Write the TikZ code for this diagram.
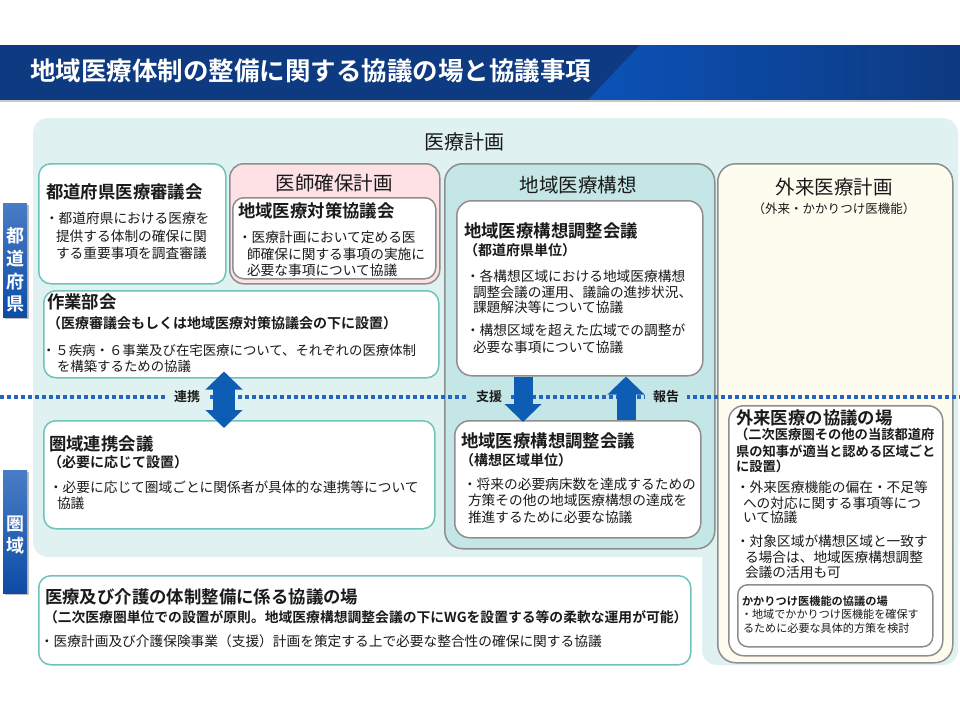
\documentclass[tikz,border=0pt]{standalone}
\usepackage{fontspec}
\setmainfont{Noto Sans CJK JP}[BoldFont={Noto Sans CJK JP Bold}]
\usetikzlibrary{arrows.meta,calc}
\definecolor{navy}{HTML}{0D3A80}
\definecolor{navyL}{HTML}{0B52B8}
\definecolor{bgc}{HTML}{DFF1F1}
\definecolor{tealc}{HTML}{6EC3BB}
\definecolor{grayc}{HTML}{8E8E8E}
\definecolor{pinkc}{HTML}{FDE1E5}
\definecolor{kousouc}{HTML}{C5E6E6}
\definecolor{ivory}{HTML}{FDFCEF}
\definecolor{arrc}{HTML}{0E5DB4}
\definecolor{dotc}{HTML}{2466BE}
\definecolor{sideT}{HTML}{4A7CC6}
\definecolor{sideB}{HTML}{0C4CA6}
\definecolor{ink}{HTML}{1A1A1A}
\newcommand\tx[5][]{\node[txt,#1] (#2) at (#3,#4) {#5};}
\tikzset{bigtip/.tip={Triangle[width=36pt 0 0,length=18pt 0 0]}}
\begin{document}
\begin{tikzpicture}[x=1pt,y=-1pt,
  txt/.style={anchor=base west,inner sep=0,outer sep=0,text=ink},
  txtc/.style={anchor=base,inner sep=0,outer sep=0,text=ink},
  fTitle/.style={font=\bfseries\fontsize{25.5}{28}\selectfont},
  fT/.style={font=\bfseries\fontsize{17.4}{20}\selectfont},
  fS/.style={font=\bfseries\fontsize{14}{16}\selectfont},
  fS13/.style={font=\bfseries\fontsize{13.3}{16}\selectfont},
  fB/.style={font=\fontsize{13.7}{16}\selectfont},
  fB2/.style={font=\fontsize{13.4}{16}\selectfont},
  fH/.style={font=\fontsize{19.5}{22}\selectfont},
  fH20/.style={font=\fontsize{20}{22}\selectfont},
  fSm/.style={font=\fontsize{12.5}{14}\selectfont},
  fK/.style={font=\bfseries\fontsize{11.2}{13}\selectfont},
  fKb/.style={font=\fontsize{11.1}{13}\selectfont},
  boxbase/.style={anchor=north west,inner sep=0,line width=1.5},
  tealbox/.style={boxbase,draw=tealc,fill=white,rounded corners=12},
  graybox/.style={boxbase,draw=grayc,fill=white,rounded corners=12},
  sidebox/.style={anchor=north west,inner sep=0,minimum width=24,top color=sideT,bottom color=sideB,draw=none},
  sidetxt/.style={align=center,text=white,font=\bfseries\fontsize{18}{22.7}\selectfont,inner sep=0},
  lab/.style={font=\bfseries\fontsize{13}{15}\selectfont,text=ink,inner xsep=8,inner ysep=3},
  bigarr/.style={draw=arrc,line width=#1},
]
\useasboundingbox (0,0) rectangle (960,720);
% title bar
\fill[navy] (0,45) rectangle (960,100);
\shade[left color=navyL,right color=navy] (640,45) -- (960,45) -- (960,100) -- (588,100) -- cycle;
\fill[black!22] (0,100) rectangle (960,102);
\tx[fTitle,text=white]{ttl}{30}{80}{地域医療体制の整備に関する協議の場と協議事項}
% background
\fill[bgc,rounded corners=15] (33,118) rectangle (958,557);
\fill[bgc,rounded corners=15] (702,400) rectangle (958,665);
\node[txtc,fH20] (iryokeikaku) at (464,149) {医療計画};
% side labels
\fill[black!25] (5,205) rectangle (29,319);
\node[sidebox,minimum height=114] (todo) at (3,203) {};
\node[sidetxt] (todoT) at (15,270) {都\\道\\府\\県};
\fill[black!25] (5,472) rectangle (29,595);
\node[sidebox,minimum height=123] (ken) at (3,470) {};
\node[sidetxt] (kenT) at (15,535) {圏\\域};
% boxes
\node[tealbox,minimum width=187,minimum height=120] (shingi) at (38,163) {};
\node[graybox,fill=pinkc,minimum width=210,minimum height=120,rounded corners=14] (ishi) at (229,163) {};
\node[graybox,minimum width=203,minimum height=81,rounded corners=11] (taisaku) at (232,197) {};
\node[tealbox,minimum width=395,minimum height=87] (sagyo) at (43,290) {};
\node[tealbox,minimum width=391,minimum height=108] (kenB) at (43,420) {};
\node[graybox,fill=kousouc,minimum width=270,minimum height=385,rounded corners=18] (kousou) at (444,163) {};
\node[graybox,minimum width=246,minimum height=175,rounded corners=15] (chouA) at (456,200) {};
\node[graybox,minimum width=246,minimum height=117,rounded corners=15] (chouB) at (454,420) {};
\node[graybox,fill=ivory,minimum width=235,minimum height=499,rounded corners=18] (gairai) at (717,163) {};
\node[graybox,fill=white,minimum width=214,minimum height=250,rounded corners=15] (gkyogi) at (728,405) {};
\node[graybox,minimum width=195,minimum height=62,rounded corners=10] (kakari) at (737,584) {};
\node[tealbox,minimum width=652,minimum height=89] (kaigo) at (38,575) {};
% dotted divider
\coordinate (dl) at (0,397);
\coordinate (dr) at (960,397);
\draw[dotc,line width=3.5,dash pattern=on 3.5 off 3.5] (dl) -- (dr);
\node[lab,fill=bgc] (renkei) at (187,397) {連携};
\node[lab,fill=kousouc] (shien) at (489,397) {支援};
\node[lab,fill=kousouc] (houkoku) at (666,397) {報告};
% arrows
\coordinate (xr) at (224,0);
\coordinate (xs) at (523,0);
\coordinate (xh) at (626,0);
\draw[bigarr=22,{bigtip}-{bigtip}] ($(sagyo.south -| xr)+(0,-7)$) -- ($(kenB.north -| xr)+(0,8)$);
\draw[bigarr=19,-{bigtip}] (chouA.south -| xs) -- ($(chouB.north -| xs)+(0,2)$);
\draw[bigarr=19,-{bigtip}] (chouB.north -| xh) -- (chouA.south -| xh);
% texts: shingi
\tx[fT]{shingiT}{46}{198}{都道府県医療審議会}
\tx[fB]{shingi1}{45}{223}{・都道府県における医療を}
\tx[fB]{shingi2}{56}{241}{提供する体制の確保に関}
\tx[fB]{shingi3}{56}{258}{する重要事項を調査審議}
% ishi
\node[txtc,fH] (ishiT) at (334,190) {医師確保計画};
\tx[fT]{taisakuT}{238}{217}{地域医療対策協議会}
\tx[fB]{taisaku1}{238}{242}{・医療計画において定める医}
\tx[fB]{taisaku2}{247}{259}{師確保に関する事項の実施に}
\tx[fB]{taisaku3}{247}{275}{必要な事項について協議}
% sagyo
\tx[fT]{sagyoT}{47}{308}{作業部会}
\tx[fS]{sagyoS}{47}{328}{（医療審議会もしくは地域医療対策協議会の下に設置）}
\tx[fB2]{sagyo1}{42}{355}{・５疾病・６事業及び在宅医療について、それぞれの医療体制}
\tx[fB2]{sagyo2}{57}{371}{を構築するための協議}
% kenB
\tx[fT]{kenBT}{49}{450}{圏域連携会議}
\tx[fS]{kenBS}{48}{467}{（必要に応じて設置）}
\tx[fB]{kenB1}{49}{492}{・必要に応じて圏域ごとに関係者が具体的な連携等について}
\tx[fB]{kenB2}{57}{508}{協議}
% kousou
\node[txtc,fH] (kousouT) at (578,192) {地域医療構想};
\tx[fT]{chouAT}{464}{237}{地域医療構想調整会議}
\tx[fS]{chouAS}{464}{255}{（都道府県単位）}
\tx[fB]{chouA1}{466}{281}{・各構想区域における地域医療構想}
\tx[fB]{chouA2}{473}{297}{調整会議の運用、議論の進捗状況、}
\tx[fB]{chouA3}{473}{312}{課題解決等について協議}
\tx[fB]{chouA4}{466}{335}{・構想区域を超えた広域での調整が}
\tx[fB]{chouA5}{473}{352}{必要な事項について協議}
\tx[fT]{chouBT}{461}{447}{地域医療構想調整会議}
\tx[fS]{chouBS}{460}{465}{（構想区域単位）}
\tx[fB]{chouB1}{463}{489}{・将来の必要病床数を達成するための}
\tx[fB]{chouB2}{468}{505}{方策その他の地域医療構想の達成を}
\tx[fB]{chouB3}{468}{522}{推進するために必要な協議}
% gairai
\node[txtc,fH] (gairaiT) at (834,194) {外来医療計画};
\node[txtc,fSm] (gairaiS) at (834,213) {（外来・かかりつけ医機能）};
\tx[fT]{gkT}{736}{424}{外来医療の協議の場}
\tx[fS13]{gkS1}{735}{439}{（二次医療圏その他の当該都道府}
\tx[fS13]{gkS2}{736}{456}{県の知事が適当と認める区域ごと}
\tx[fS13]{gkS3}{736}{471}{に設置）}
\tx[fB]{gk1}{736}{492}{・外来医療機能の偏在・不足等}
\tx[fB]{gk2}{743}{508}{への対応に関する事項等につ}
\tx[fB]{gk3}{743}{522}{いて協議}
\tx[fB]{gk4}{736}{546}{・対象区域が構想区域と一致す}
\tx[fB]{gk5}{745}{562}{る場合は、地域医療構想調整}
\tx[fB]{gk6}{745}{577}{会議の活用も可}
\tx[fK]{kkT}{742}{605}{かかりつけ医機能の協議の場}
\tx[fKb]{kk1}{741}{618}{・地域でかかりつけ医機能を確保す}
\tx[fKb]{kk2}{743}{632}{るために必要な具体的方策を検討}
% kaigo
\tx[fT]{kgT}{45}{603}{医療及び介護の体制整備に係る協議の場}
\tx[fS,font=\bfseries\fontsize{13.8}{16}\selectfont]{kgS}{44}{622}{（二次医療圏単位での設置が原則。地域医療構想調整会議の下にWGを設置する等の柔軟な運用が可能）}
\tx[fB]{kg1}{40}{646}{・医療計画及び介護保険事業（支援）計画を策定する上で必要な整合性の確保に関する協議}
\end{tikzpicture}
\end{document}
